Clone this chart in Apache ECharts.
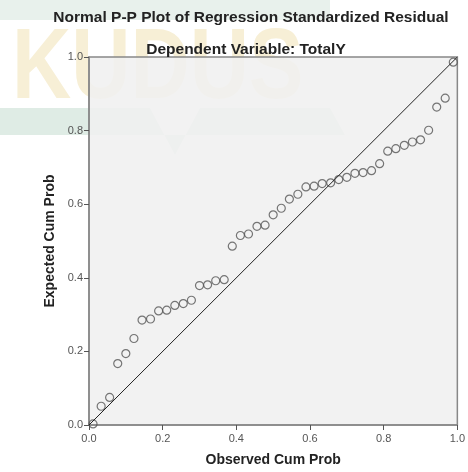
<!DOCTYPE html>
<html>
<head>
<meta charset="utf-8">
<script src="https://cdn.jsdelivr.net/npm/echarts@6/dist/echarts.min.js"></script>
<style>
  html, body { margin: 0; padding: 0; background: #fff; }
  #chart { width: 468px; height: 472px; }
</style>
</head>
<body>
<div id="chart"></div>
<script>
// observed / expected cumulative probabilities
var observed = [0.011, 0.033, 0.056, 0.078, 0.100, 0.122, 0.144, 0.167, 0.189, 0.211,
                0.233, 0.256, 0.278, 0.300, 0.322, 0.344, 0.367, 0.389, 0.411, 0.433,
                0.456, 0.478, 0.500, 0.522, 0.544, 0.567, 0.589, 0.611, 0.633, 0.656,
                0.678, 0.700, 0.722, 0.744, 0.767, 0.789, 0.811, 0.833, 0.856, 0.878,
                0.900, 0.922, 0.944, 0.967, 0.989];
var expected = [0.003, 0.051, 0.075, 0.167, 0.194, 0.235, 0.285, 0.288, 0.310, 0.312,
                0.325, 0.330, 0.339, 0.379, 0.381, 0.392, 0.395, 0.486, 0.515, 0.519,
                0.540, 0.543, 0.571, 0.589, 0.614, 0.627, 0.647, 0.649, 0.656, 0.658,
                0.667, 0.673, 0.684, 0.686, 0.691, 0.710, 0.744, 0.751, 0.760, 0.769,
                0.775, 0.801, 0.864, 0.888, 0.986];
var refLine = [[0, 0], [1, 1]];

var points = observed.map(function (x, i) { return [x, expected[i]]; });

var chart = echarts.init(document.getElementById('chart'));
var labelFmt = function (v) { return v.toFixed(1); };

chart.setOption({
  animation: false,
  backgroundColor: '#fff',
  // faint watermark behind the chart
  graphic: [
    { type: 'rect', z: -10, shape: { x: 0, y: 0, width: 330, height: 20 },
      style: { fill: '#e8f1ec' } },
    { type: 'text', z: -10, x: 12, y: 20, scaleX: 0.82,
      style: { text: 'KUDUS', font: 'bold 100px "Liberation Sans"', fill: '#f7efd6' } },
    { type: 'polygon', z: -10,
      shape: { points: [[0, 108], [150, 108], [175, 155], [200, 108], [330, 108], [345, 135], [0, 135]] },
      style: { fill: '#dfece5' } }
  ],
  title: [
    { text: 'Normal P-P Plot of Regression Standardized Residual', left: 246, top: 5, textAlign: 'center',
      textStyle: { fontFamily: 'Liberation Sans', fontSize: 15.5, fontWeight: 'bold', color: '#222' } },
    { text: 'Dependent Variable: TotalY', left: 241, top: 37, textAlign: 'center',
      textStyle: { fontFamily: 'Liberation Sans', fontSize: 15.5, fontWeight: 'bold', color: '#222' } }
  ],
  grid: {
    left: 89, right: 9, top: 57, bottom: 45,
    show: true, backgroundColor: 'rgba(240,240,240,0.88)',
    borderColor: '#888', borderWidth: 1.5
  },
  xAxis: {
    type: 'value', min: 0, max: 1, interval: 0.2,
    name: 'Observed Cum Prob', nameLocation: 'middle', nameGap: 28,
    nameTextStyle: { fontFamily: 'Liberation Sans', fontSize: 14, fontWeight: 'bold', color: '#222' },
    axisLine: { show: true, lineStyle: { color: '#888', width: 1.5 } },
    axisTick: { show: true, length: 5, lineStyle: { color: '#555' } },
    axisLabel: { formatter: labelFmt, margin: 8, fontFamily: 'Liberation Sans', fontSize: 11, color: '#555' },
    splitLine: { show: false }
  },
  yAxis: {
    type: 'value', min: 0, max: 1, interval: 0.2,
    name: 'Expected Cum Prob', nameLocation: 'middle', nameGap: 28,
    nameTextStyle: { fontFamily: 'Liberation Sans', fontSize: 14, fontWeight: 'bold', color: '#222' },
    axisLine: { show: true, lineStyle: { color: '#888', width: 1.5 } },
    axisTick: { show: true, length: 5, lineStyle: { color: '#555' } },
    axisLabel: { formatter: labelFmt, margin: 6, fontFamily: 'Liberation Sans', fontSize: 11, color: '#555' },
    splitLine: { show: false }
  },
  series: [
    {
      type: 'line', data: refLine, symbol: 'none', silent: true,
      lineStyle: { color: '#222', width: 1 }
    },
    {
      type: 'scatter', data: points, symbol: 'circle', symbolSize: 8,
      itemStyle: { color: 'rgba(0,0,0,0)', borderColor: '#555', borderWidth: 1.2 }
    }
  ]
});
</script>
</body>
</html>
